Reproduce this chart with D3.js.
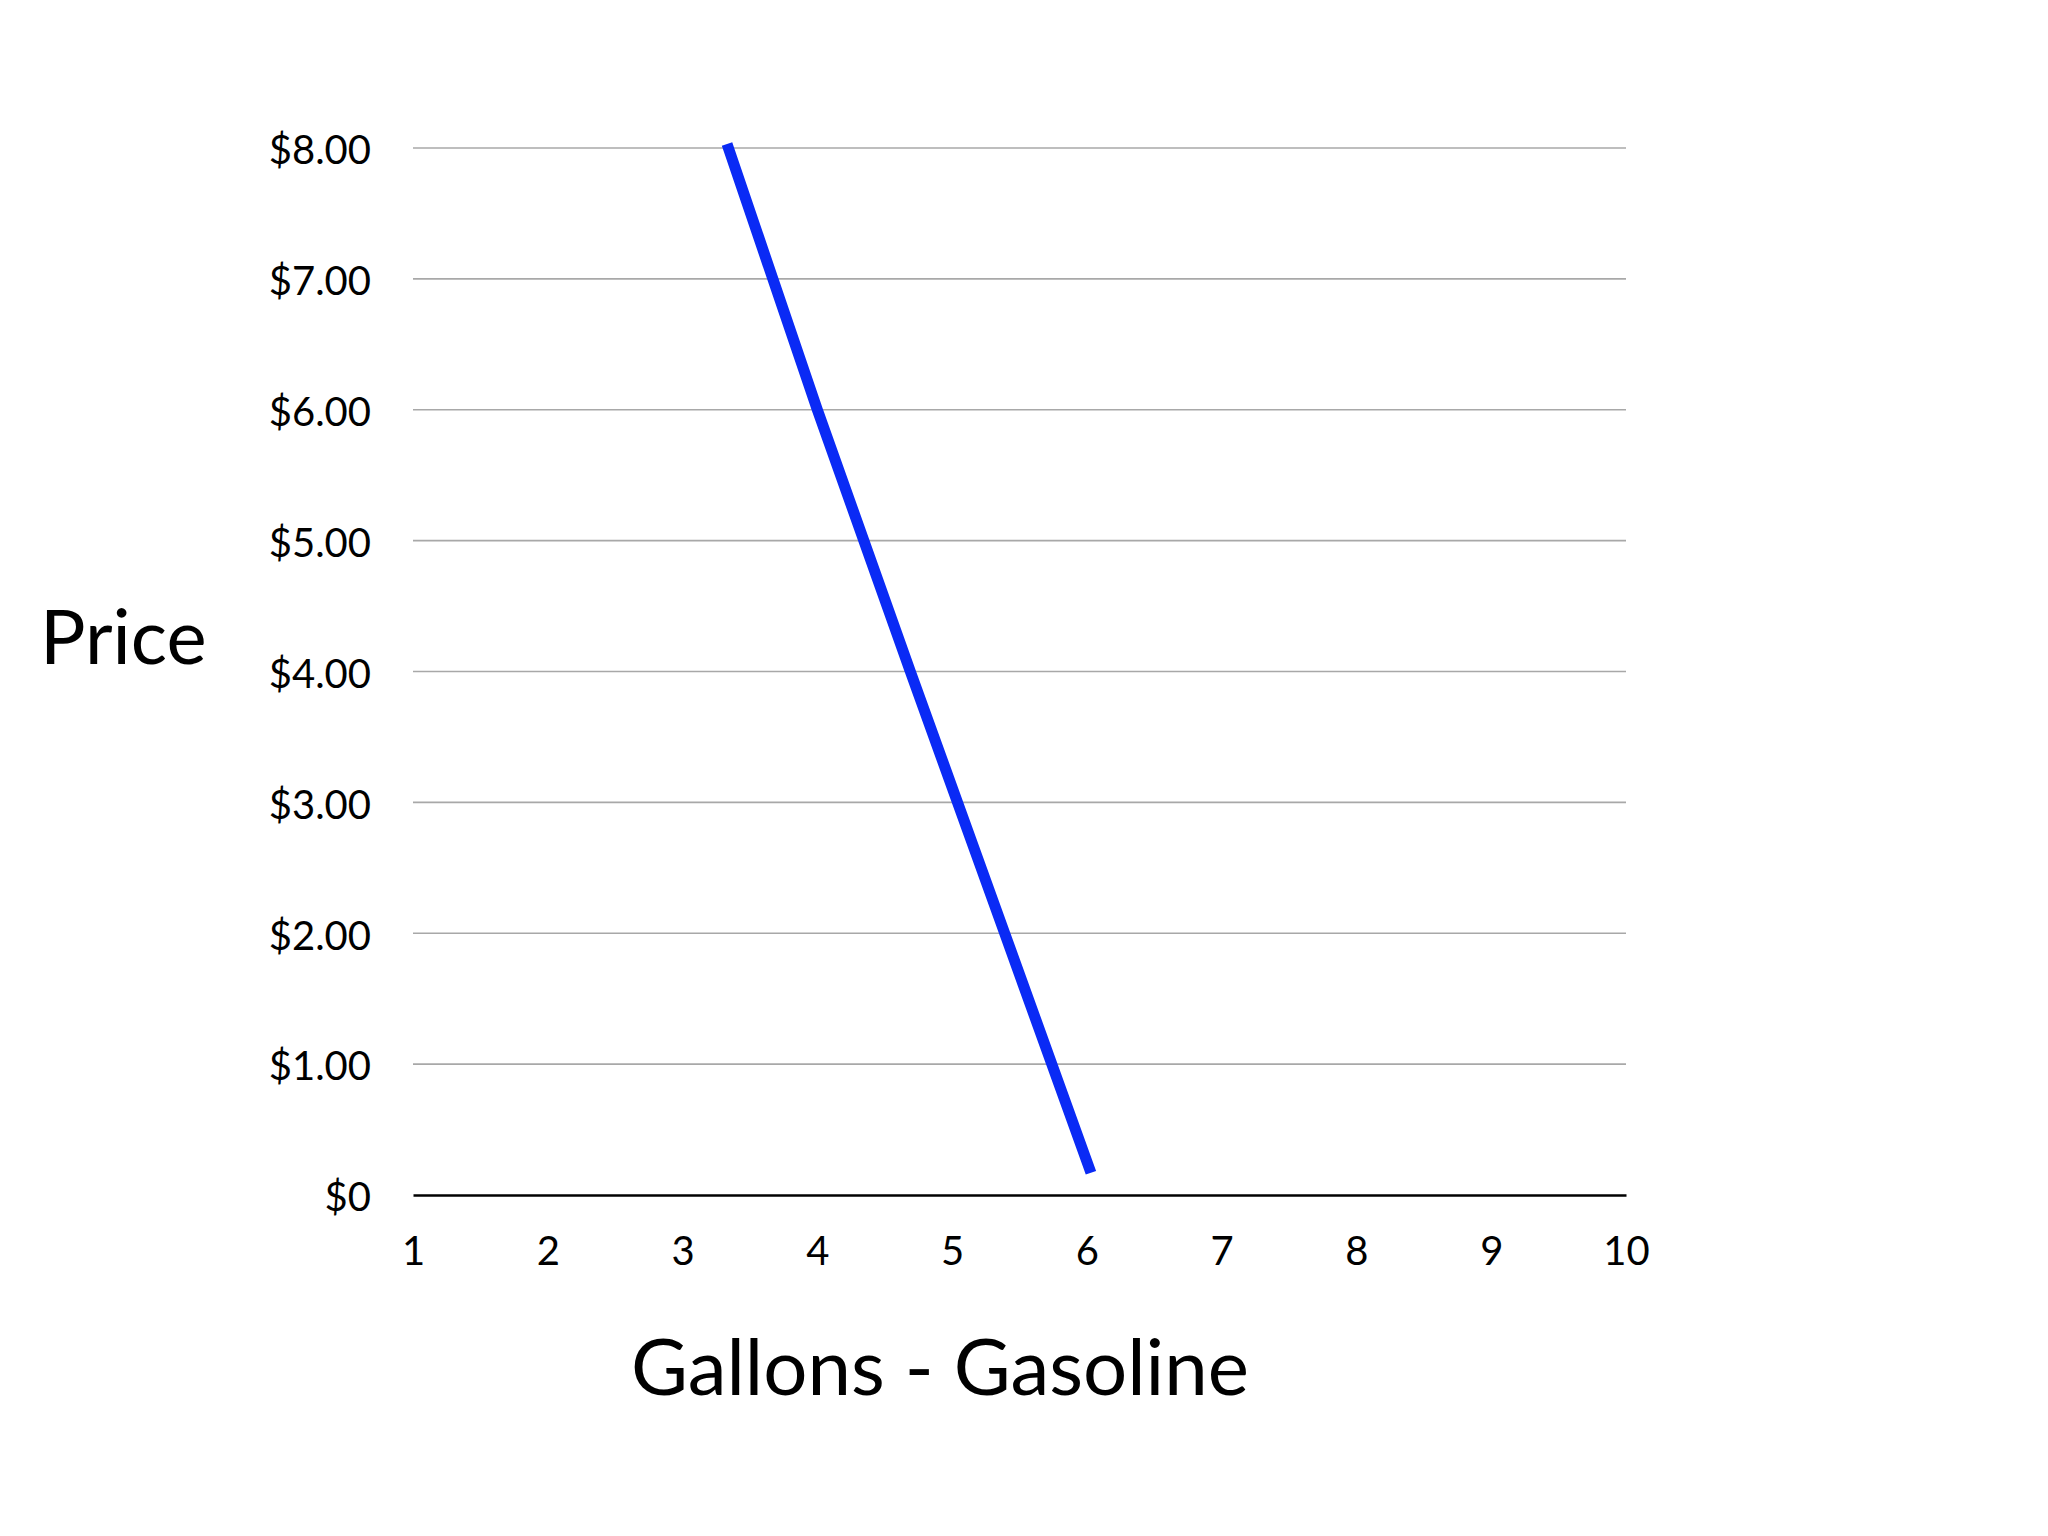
<!DOCTYPE html>
<html>
<head>
<meta charset="utf-8">
<script src="https://cdn.jsdelivr.net/npm/d3@7"></script>
<style>
  body { margin: 0; background: #fff; }
  text { font-family: Lato, "Open Sans", sans-serif; fill: #000; }
</style>
</head>
<body>
<div id="chart"></div>
<script>
// data
const gallons = [3.33, 4.0, 4.69, 5.39, 6.03];
const prices = [8.03, 6.0, 4.0, 2.0, 0.17];
const xTicks = [1, 2, 3, 4, 5, 6, 7, 8, 9, 10];
const yTicks = [0, 1, 2, 3, 4, 5, 6, 7, 8];
const yTickLabels = ["$0", "$1.00", "$2.00", "$3.00", "$4.00", "$5.00", "$6.00", "$7.00", "$8.00"];

const width = 2048, height = 1536;
const margin = {top: 148, right: 422, bottom: 341, left: 413};

const svg = d3.select("#chart")
  .append("svg")
  .attr("width", width)
  .attr("height", height);

const x = d3.scaleLinear()
  .domain([1, 10])
  .range([margin.left, width - margin.right]);

const y = d3.scaleLinear()
  .domain([0, 8])
  .range([height - margin.bottom, margin.top]);

// horizontal gridlines
svg.append("g")
  .selectAll("line")
  .data(yTicks.filter(d => d > 0))
  .join("line")
  .attr("x1", x(1))
  .attr("x2", x(10))
  .attr("y1", d => y(d))
  .attr("y2", d => y(d))
  .attr("stroke", "#a8a8a8")
  .attr("stroke-width", 1.6);

// y axis labels
const yAxis = d3.axisLeft(y)
  .tickValues(yTicks)
  .tickSize(0)
  .tickPadding(42)
  .tickFormat((d, i) => yTickLabels[i]);

svg.append("g")
  .attr("transform", `translate(${x(1)},3)`)
  .call(yAxis)
  .call(g => g.select(".domain").remove())
  .selectAll("text")
  .style("font-family", "Lato, sans-serif")
  .style("font-size", "40px")
  .attr("fill", "#000");

// x axis
const xAxis = d3.axisBottom(x)
  .tickValues(xTicks)
  .tickSize(0)
  .tickPadding(42)
  .tickFormat(d3.format("d"));

svg.append("g")
  .attr("transform", `translate(0,${y(0)})`)
  .call(xAxis)
  .call(g => g.select(".domain").attr("stroke", "#000").attr("stroke-width", 2.5))
  .selectAll("text")
  .style("font-family", "Lato, sans-serif")
  .style("font-size", "40px")
  .attr("fill", "#000");

// demand line
const line = d3.line()
  .x((d, i) => x(gallons[i]))
  .y(d => y(d));

svg.append("path")
  .datum(prices)
  .attr("d", line)
  .attr("fill", "none")
  .attr("stroke", "#0a2af5")
  .attr("stroke-width", 11)
  .attr("stroke-linecap", "butt");

// axis titles
svg.append("text")
  .attr("x", 40)
  .attr("y", 664)
  .style("font-size", "76px")
  .text("Price");

svg.append("text")
  .attr("x", 940)
  .attr("y", 1395)
  .attr("text-anchor", "middle")
  .style("font-size", "78px")
  .text("Gallons - Gasoline");
</script>
</body>
</html>
